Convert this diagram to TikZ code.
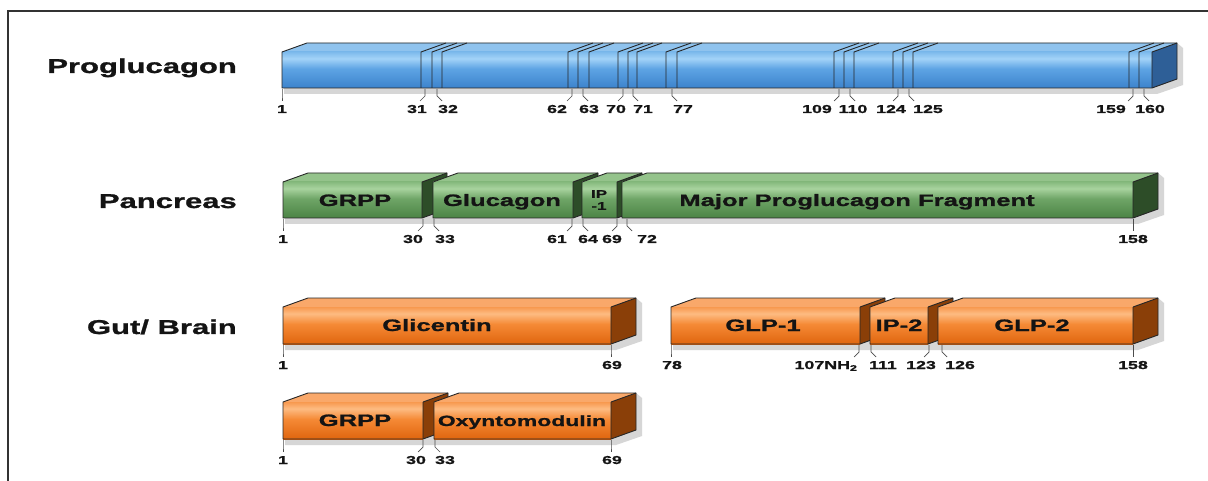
\documentclass[tikz,border=0pt]{standalone}
\usepackage{fontspec}
\setmainfont{Liberation Sans}[FakeStretch=1.55, BoldFeatures={FakeBold=1.2}]
\definecolor{btop}{HTML}{7DBAEC}\definecolor{blight}{HTML}{A3D3F8}\definecolor{bmid}{HTML}{5EA4E4}\definecolor{bdark}{HTML}{3C83CC}
\definecolor{bface}{HTML}{8FC3EE}\definecolor{bside}{HTML}{2E5F97}
\definecolor{gtop}{HTML}{86BA7E}\definecolor{glight}{HTML}{A8D39E}\definecolor{gmid}{HTML}{6FA567}\definecolor{gdark}{HTML}{4B8445}
\definecolor{gface}{HTML}{94C38B}\definecolor{gside}{HTML}{2D4D28}
\definecolor{otop}{HTML}{F7994F}\definecolor{olight}{HTML}{FDBB82}\definecolor{omid}{HTML}{F58A36}\definecolor{odark}{HTML}{E0650E}
\definecolor{oface}{HTML}{F9A86A}\definecolor{oside}{HTML}{8A3F08}
\pgfdeclareverticalshading{bshade}{100bp}{color(0bp)=(bdark); color(25bp)=(bdark); color(52bp)=(bmid); color(66bp)=(blight); color(75bp)=(btop); color(100bp)=(btop)}
\pgfdeclareverticalshading{gshade}{100bp}{color(0bp)=(gdark); color(25bp)=(gdark); color(52bp)=(gmid); color(66bp)=(glight); color(75bp)=(gtop); color(100bp)=(gtop)}
\pgfdeclareverticalshading{oshade}{100bp}{color(0bp)=(odark); color(25bp)=(odark); color(52bp)=(omid); color(66bp)=(olight); color(75bp)=(otop); color(100bp)=(otop)}
\tikzset{
  outl/.style={draw=black!85, line width=0.9pt, line join=round},
  rowlbl/.style={font=\bfseries\fontsize{20}{22}\selectfont, text=black!92, anchor=base east, inner sep=0pt},
  intxt/.style={font=\bfseries\fontsize{16.5}{18}\selectfont, text=black!92, anchor=base, inner sep=0pt},
  smalltxt/.style={font=\bfseries\fontsize{11}{12}\selectfont, text=black!92, inner sep=0pt, align=center},
  num/.style={font=\bfseries\fontsize{11.5}{12}\selectfont, text=black!92, anchor=base, inner sep=0pt},
  tickln/.style={draw=black!70, line width=0.7pt},
  shadowfill/.style={fill=black!16},
  frameln/.style={draw=black!80, line width=1.2pt},
}
% #1 x1, #2 x2, #3 ytop, #4 ybot, #5 colour prefix
\newcommand{\pbox}[5]{%
  \fill[#5face] (#1,#3) -- ({#1+25},{#3-9}) -- ({#2+25},{#3-9}) -- (#2,#3) -- cycle;
  \shade[shading=#5shade] (#1,#3) rectangle (#2,#4);
  \fill[#5side] (#2,#3) -- ({#2+25},{#3-9}) -- ({#2+25},{#4-9}) -- (#2,#4) -- cycle;
  \draw[outl] (#1,#4) -- (#1,#3) -- ({#1+25},{#3-9}) -- ({#2+25},{#3-9}) -- ({#2+25},{#4-9}) -- (#2,#4) -- cycle;
  \draw[outl] (#2,#3) -- ({#2+25},{#3-9}) (#2,#3) -- (#2,#4);
}
% shadow under a run of boxes: #1 x1, #2 x2 (front right), #3 ytop, #4 ybot
\newcommand{\pshadow}[4]{%
  \fill[shadowfill] ({#1+2},#4) -- ({#1+2},{#4+6}) -- ({#2+5},{#4+6}) -- ({#2+31},{#4-3}) -- ({#2+31},{#3-4}) -- ({#2+25},{#3-9}) -- cycle;
}
% #1 name, #2 tick x, #3 label x, #4 ybot, #5 direction, #6 text
\newcommand{\ptick}[6]{%
  \node[num] (#1) at (#3,{#4+25}) {#6};
  \draw[tickln] (#2,{#4+1}) -- (#2,{#4+8}) -- ({#2+#5*5},{#4+13});
}
\newcommand{\cut}[1]{\draw[outl] (#1,88) -- (#1,52) -- ({#1+25},43);}
\begin{document}
\begin{tikzpicture}[x=1pt,y=-1pt]
\useasboundingbox (0,0) rectangle (1208,481);
\fill[white] (0,0) rectangle (1208,481);
\draw[frameln] (8,481) -- (8,11) -- (1208,11);

% row labels
\node[rowlbl] (rowP) at (237,73) {Proglucagon};
\node[rowlbl] (rowPa) at (237,208) {Pancreas};
\node[rowlbl] (rowG) at (237,334) {Gut/ Brain};

% ---------- Proglucagon ----------
\pshadow{282}{1152}{52}{88}
\pbox{282}{1152}{52}{88}{b}
\foreach \c in {421,432,442,568,578,589,618,628,637,666,677,834,844,854,893,903,913,1129,1139} {\cut{\c}}
\ptick{p1}{282}{282}{88}{0}{1}
\ptick{p31}{425}{417}{88}{-1}{31}
\ptick{p32}{437}{448}{88}{1}{32}
\ptick{p62}{572}{557}{88}{-1}{62}
\ptick{p63}{583}{589}{88}{1}{63}
\ptick{p70}{623}{616}{88}{-1}{70}
\ptick{p71}{633}{643}{88}{1}{71}
\ptick{p77}{672}{683}{88}{1}{77}
\ptick{p109}{839}{817}{88}{-1}{109}
\ptick{p110}{850}{853}{88}{1}{110}
\ptick{p124}{898}{891}{88}{-1}{124}
\ptick{p125}{909}{928}{88}{1}{125}
\ptick{p159}{1133}{1111}{88}{-1}{159}
\ptick{p160}{1144}{1150}{88}{1}{160}

% ---------- Pancreas ----------
\pshadow{283}{1133}{182}{218}
\pbox{283}{422}{182}{218}{g}
\pbox{433}{573}{182}{218}{g}
\pbox{582}{617}{182}{218}{g}
\pbox{622}{1133}{182}{218}{g}
\node[intxt] (grpp1) at (355,206) {GRPP};
\node[intxt] (gluc) at (502,206) {Glucagon};
\node[smalltxt] (ip1) at (599,200) {IP\\-1};
\node[intxt] (mpgf) at (857,206) {Major Proglucagon Fragment};
\ptick{a1}{283}{283}{218}{0}{1}
\ptick{a30}{423}{413}{218}{-1}{30}
\ptick{a33}{434}{445}{218}{1}{33}
\ptick{a61}{572}{557}{218}{-1}{61}
\ptick{a64}{583}{588}{218}{1}{64}
\ptick{a69}{617}{612}{218}{-1}{69}
\ptick{a72}{627}{647}{218}{1}{72}
\ptick{a158}{1133}{1133}{218}{0}{158}

% ---------- Gut / Brain row 1 ----------
\pshadow{283}{611}{307}{344}
\pbox{283}{611}{307}{344}{o}
\node[intxt] (glic) at (437,331) {Glicentin};
\pshadow{671}{1133}{307}{344}
\pbox{671}{860}{307}{344}{o}
\pbox{870}{928}{307}{344}{o}
\pbox{938}{1133}{307}{344}{o}
\node[intxt] (glp1) at (763,331) {GLP-1};
\node[intxt] (ip2) at (899,331) {IP-2};
\node[intxt] (glp2) at (1032,331) {GLP-2};
\ptick{g1}{283}{283}{344}{0}{1}
\ptick{g69}{611}{612}{344}{0}{69}
\ptick{g78}{671}{672}{344}{0}{78}
\ptick{g107}{859}{826}{344}{-1}{107NH\textsubscript{2}}
\ptick{g111}{871}{883}{344}{1}{111}
\ptick{g123}{929}{921}{344}{-1}{123}
\ptick{g126}{942}{960}{344}{1}{126}
\ptick{g158}{1133}{1133}{344}{0}{158}

% ---------- Gut / Brain row 2 ----------
\pshadow{283}{611}{402}{439}
\pbox{283}{423}{402}{439}{o}
\pbox{434}{611}{402}{439}{o}
\node[intxt] (grpp2) at (355,426) {GRPP};
\node[intxt, font=\bfseries\fontsize{14.8}{16}\selectfont] (oxm) at (522,426) {Oxyntomodulin};
\ptick{h1}{283}{283}{439}{0}{1}
\ptick{h30}{423}{416}{439}{-1}{30}
\ptick{h33}{435}{445}{439}{1}{33}
\ptick{h69}{611}{612}{439}{0}{69}
\end{tikzpicture}
\end{document}
